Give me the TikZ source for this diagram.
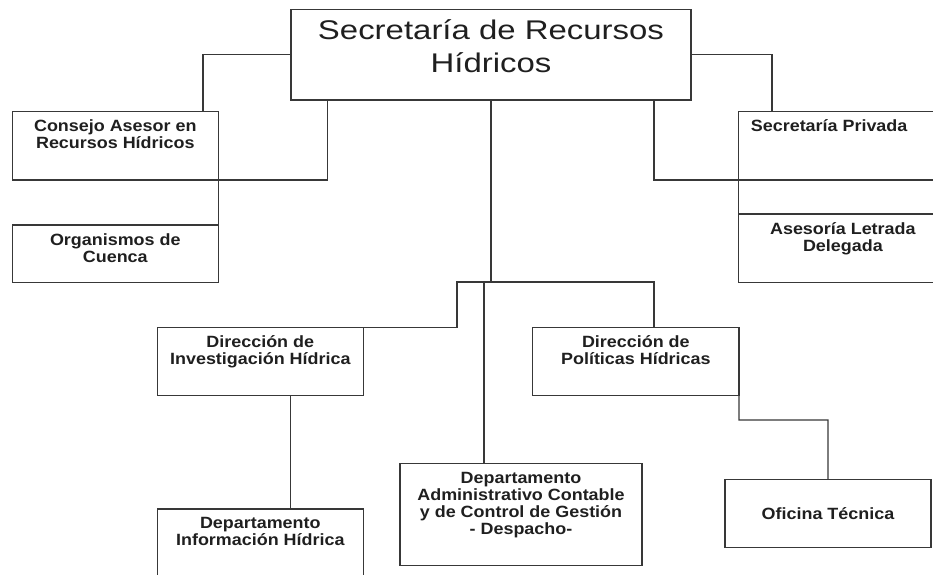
\documentclass[tikz,border=0pt]{standalone}
\usepackage{fontspec}
\setmainfont{Liberation Sans}
\newfontfamily\unitfont[FakeStretch=1.1]{Liberation Sans}
\newfontfamily\headfont[FakeStretch=1.22]{Liberation Sans}
\usepackage{tikz}
\usetikzlibrary{positioning,calc}

\begin{document}
\begin{tikzpicture}[
    x=1pt, y=-1pt,
    unit/.style={draw=black!78, line width=1.1pt, anchor=north west,
                 inner sep=0pt, outer sep=0pt, text=black!88,
                 font=\unitfont\bfseries\fontsize{16.3}{17}\selectfont},
    lbl/.style={anchor=north, inner sep=0pt, align=center, text=black!88,
                font=\unitfont\bfseries\fontsize{16.3}{17}\selectfont},
    link/.style={draw=black!78, line width=1.1pt},
  ]
  \useasboundingbox (0,0) rectangle (933,574);

  % Boxes
  \node[unit, minimum width=400pt, minimum height=90.7pt] (top) at (291,9.3) {};
  \node[unit, minimum width=206pt, minimum height=68.3pt] (cons) at (12.3,111.7) {};
  \node[unit, minimum width=206pt, minimum height=57.7pt] (orga) at (12.3,225) {};
  \node[unit, minimum width=204.3pt, minimum height=68.3pt] (priv) at (738.7,111.7) {};
  \node[unit, minimum width=204.3pt, minimum height=68.3pt] (ases) at (738.7,214) {};
  \node[unit, minimum width=206pt, minimum height=68.4pt] (inv) at (157.3,327.3) {};
  \node[unit, minimum width=206.3pt, minimum height=68.4pt] (pol) at (532.7,327.3) {};
  \node[unit, minimum width=242pt, minimum height=102.4pt] (adm) at (400,463.3) {};
  \node[unit, minimum width=206pt, minimum height=68pt] (info) at (157.3,509) {};
  \node[unit, minimum width=206pt, minimum height=68pt] (ofi) at (725,479.3) {Oficina Técnica};

  % Texts
  \node[anchor=north, inner sep=0pt, align=center, text=black!88,
        font=\headfont\fontsize{27}{33}\selectfont] (top-t) at ([yshift=-10pt]top.north)
    {Secretaría de Recursos\\Hídricos};
  \node[lbl] (cons-t) at ([yshift=-8pt]cons.north) {Consejo Asesor en\\Recursos Hídricos};
  \node[lbl] (orga-t) at ([yshift=-8pt]orga.north) {Organismos de\\Cuenca};
  \node[lbl, anchor=north west] (priv-t) at ([xshift=12pt, yshift=-7.5pt]priv.north west) {Secretaría Privada};
  \node[lbl] (ases-t) at ([xshift=2pt, yshift=-8pt]ases.north) {Asesoría Letrada\\Delegada};
  \node[lbl] (inv-t) at ([yshift=-8.4pt]inv.north) {Dirección de\\Investigación Hídrica};
  \node[lbl] (pol-t) at ([yshift=-8.4pt]pol.north) {Dirección de\\Políticas Hídricas};
  \node[lbl] (adm-t) at ([yshift=-8.4pt]adm.north)
    {Departamento\\Administrativo Contable\\y de Control de Gestión\\- Despacho-};
  \node[lbl] (info-t) at ([yshift=-8pt]info.north) {Departamento\\Información Hídrica};

  % Connector points
  \coordinate (cl) at (203,111.7);
  \coordinate (tl) at (327.3,100);
  \coordinate (cr) at (772,111.7);
  \coordinate (tr) at (654,100);
  \coordinate (hl) at (457,282);
  \coordinate (hm) at (484,282);
  \coordinate (hr) at (654,282);
  \coordinate (vi) at (290.7,395.7);
  \coordinate (pk) at (739,420);

  % Left branch
  \draw[link] (top.west) -| (cl);
  \draw[link] (tl) |- (cons.south east) -- (orga.north east);

  % Right branch
  \draw[link] (top.east) -| (cr);
  \draw[link] (tr) |- (priv.south west) -- (ases.north west);

  % Centre branch
  \draw[link] (top.south) -- (top.south |- hl);
  \draw[link] (inv.north east) -| (hl) -- (hr) -- (hr |- pol.north);
  \draw[link] (hm) -- (hm |- adm.north);
  \draw[link] (vi) -- (vi |- info.north);
  \draw[link] (pol.east) -- (pk) -| (ofi.north);

\end{tikzpicture}
\end{document}
